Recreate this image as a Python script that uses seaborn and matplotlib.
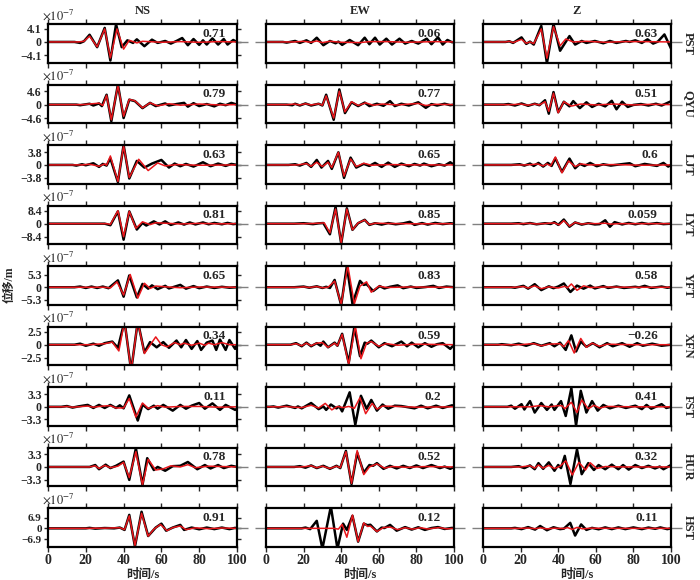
import numpy as np
import matplotlib
matplotlib.use("Agg")
import matplotlib.pyplot as plt
import seaborn as sns

# ---------------- data (amplitudes in 1e-7 m, time in s) ----------------
STATIONS = ['PST', 'QYU', 'LJT', 'LYT', 'YFT', 'XFN', 'FST', 'HUR', 'HST']
COMPONENTS = ['NS', 'EW', 'Z']
TICK_AMP = [4.1, 4.6, 3.8, 8.4, 5.3, 2.5, 3.3, 3.3, 6.9]
CORR = [['0.71', '0.06', '0.63'],
        ['0.79', '0.77', '0.51'],
        ['0.63', '0.65', '0.6'],
        ['0.81', '0.85', '0.059'],
        ['0.65', '0.83', '0.58'],
        ['0.34', '0.59', '\u22120.26'],
        ['0.11', '0.2', '0.41'],
        ['0.78', '0.52', '0.32'],
        ['0.91', '0.12', '0.11']]
XTICKS = [0, 20, 40, 60, 80, 100]

# --- NS ---
PST_NS_obs = [(0,0),(14,0),(17,-0.3),(19,0.2),(22,2.2),(26,-1.6),(30,4.3),(33,-5.7),(36,5.4),(39,-1.6),(42,0.5),(45,-0.3),(47,0.8),(51,-1.3),(55,0.7),(58,-0.3),(62,0.3),(65,-0.5),(68,0.3),(71,1.2),(74,-1.0),(77,0.9),(80,-0.9),(82,0.5),(84,-0.8),(87,1.1),(90,-0.8),(93,0.9),(95,-0.8),(98,0.6),(100,0)]
PST_NS_syn = [(0,0),(16,0),(19,0.2),(22,1.8),(26,-1.5),(30,4.0),(33,-4.9),(36.5,4.0),(40,-2.2),(43,0.5),(47,-0.3),(50,0.2),(60,-0.1),(70,0.1),(80,-0.1),(90,0.1),(100,0)]
QYU_NS_obs = [(0,0),(15,0),(17,-0.2),(22,0.3),(24,-0.3),(27,0.4),(28.5,-0.5),(31,3.4),(33.5,-5.7),(37,6.9),(40,-4.6),(43,1.7),(46,1.2),(50,-1.2),(54,0.6),(57,-0.5),(62,0.4),(64,-0.3),(68,0.2),(72,0.6),(74,-0.7),(77,0.5),(80,-0.5),(84,0.2),(88,-0.6),(91,0.3),(94,-0.2),(97,0.6),(100,0)]
QYU_NS_syn = [(0,0),(18,0),(20,0.1),(27,0.5),(29,-0.3),(31,3.2),(33.5,-5.2),(37,6.6),(40,-4.0),(43,1.8),(46,1.3),(50,-1.1),(54,0.6),(58,-0.4),(64,0.3),(70,-0.2),(80,0.2),(90,-0.1),(100,0)]
LJT_NS_obs = [(0,0),(13,0),(15,-0.2),(18,0.2),(20,-0.1),(24,0.5),(27,-0.6),(29,0.3),(31,-0.2),(33,2.0),(37,-5.2),(40,6.0),(43,-4.1),(47,1.2),(51,-0.8),(55,0.4),(60,1.5),(64,-0.8),(67,0.4),(70,-0.4),(73,0.3),(77,-0.5),(82,0.8),(86,-0.4),(90,0.4),(94,-0.3),(97,0.3),(100,0)]
LJT_NS_syn = [(0,0),(18,0),(22,0.2),(27,-0.4),(30,0.3),(31,-0.1),(33,2.7),(37,-5.0),(40,5.8),(43,-3.8),(48,1.7),(53,-1.7),(58,0.6),(62,-0.3),(68,0.1),(80,-0.1),(100,0)]
LYT_NS_obs = [(0,0),(30,0),(33,-1.0),(37,8.0),(40,-10.4),(43,8.0),(47,-3.8),(50,0.5),(52,-1.2),(56,1.5),(59,-0.5),(62,1.5),(65,-0.8),(69,0.8),(72,-0.6),(75,0.8),(78,-0.5),(82,0.8),(85,-0.4),(88,0.5),(92,-0.4),(95,0.5),(98,-0.3),(100,0)]
LYT_NS_syn = [(0,0),(31,0),(33,-0.5),(37,8.4),(40,-8.5),(43,8.0),(46.5,-3.0),(50,1.2),(54,-0.6),(57,0.6),(62,0.3),(70,-0.2),(80,0.2),(90,-0.1),(100,0)]
YFT_NS_obs = [(0,0),(14,0),(17,0.3),(20,-0.3),(23,0.3),(26,-0.3),(29,0.3),(32,-0.4),(37,2.9),(40,-4.0),(43,5.0),(47,-4.3),(50,1.4),(53,-0.6),(55,0.8),(58,-0.8),(62,0.6),(64,-0.5),(70,1.0),(73,-0.6),(77,0.5),(80,-0.4),(84,0.3),(88,-0.3),(92,0.2),(96,-0.2),(100,0)]
YFT_NS_syn = [(0,0),(30,0),(33,-0.3),(36.5,2.3),(40,-3.3),(43.5,5.4),(47.5,-4.6),(51,1.7),(54,-0.5),(57,0.5),(62,0.2),(70,-0.2),(80,0.1),(100,0)]
XFN_NS_obs = [(0,0),(14,0),(17,0.2),(20,-0.2),(24,0.2),(27,-0.2),(30,0.3),(34,0.6),(37,-0.6),(40.5,4.5),(44,-5.0),(47.5,4.5),(51,-1.5),(54,0.5),(57.5,-0.5),(61,0.5),(64,-0.6),(68,0.8),(70.5,-0.5),(73,0.9),(76,-0.8),(79,0.7),(81,-1.0),(84,0.4),(87,0.8),(89,-1.0),(91,1.0),(94,-1.0),(96,0.9),(99,-0.8),(100,0)]
XFN_NS_syn = [(0,0),(22,0),(26,0.1),(30,0.2),(34,0.5),(37.5,-1.2),(40.5,4.5),(44,-5.0),(47.5,4.5),(51,-1.7),(57,1.5),(60,0.0),(63,-0.4),(67,0.4),(70,0),(72,0.3),(76,-0.1),(80,0.3),(83,-0.1),(85,0.3),(88,0),(92,0.4),(96,0),(100,0)]
FST_NS_obs = [(0,0),(7,0),(10,0.2),(13,-0.2),(16,0.1),(21,0.5),(24,-0.3),(27,0.5),(30,-0.3),(33,0.5),(36,-0.3),(38,0.4),(40,-0.4),(43,3.0),(47.5,-3.6),(50,0.6),(53,-0.6),(56,0.3),(58,-0.5),(61,0.5),(66,-1.0),(70,0.5),(73,-0.5),(76,0.3),(80,1.0),(83,-0.5),(87,0.9),(91,-0.8),(94,0.5),(99,-0.8),(100,-0.5)]
FST_NS_syn = [(0,0),(8,0),(10,0.1),(13,-0.1),(21,0.2),(24,-0.1),(29,0.2),(33,0.3),(36,-0.3),(40,-0.3),(43,2.2),(46.5,-2.7),(50,1.0),(53,-0.4),(58,0.3),(62,-0.1),(70,0.1),(80,0.1),(90,-0.1),(100,0)]
HUR_NS_obs = [(0,0),(22,0),(25,0.5),(27,-0.6),(30.5,0.6),(33,-0.3),(36,0.3),(40,1.4),(43,-3.4),(46.5,4.9),(50,-4.7),(52.5,2.3),(56,-0.8),(58,0),(62,-1.0),(66,0.2),(70,0.3),(74,1.3),(79,-0.6),(83,0.5),(86,-0.4),(90,0.5),(93,-0.3),(97,0.3),(100,0)]
HUR_NS_syn = [(0,0),(22,0),(25,0.3),(27,-0.4),(30,0.4),(33,-0.2),(37,0.2),(40,1.2),(43,-2.8),(46.5,4.0),(50,-4.7),(53,2.0),(57,-0.8),(61,-0.5),(65,0.3),(70,0),(74,0.6),(78,-0.2),(85,0.2),(100,0)]
HST_NS_obs = [(0,0),(20,0),(22,0.3),(25,-0.2),(30,0.2),(35,0),(38,0.5),(40.5,-1.0),(43,8.6),(46,-11.6),(49.5,10.6),(53,-4.9),(57,0.5),(60,3.0),(62.5,-1.5),(66,0.5),(70,2.2),(72,-1.0),(76,0.5),(80,-0.6),(84,0.5),(88,-0.5),(92,0.5),(96,-0.5),(99,0.3),(100,0)]
HST_NS_syn = [(0,0),(22,0),(25,0.1),(30,0.1),(38,0.4),(40.5,-0.8),(43,8.0),(46,-11.0),(49.5,9.6),(53,-5.0),(56,-0.5),(59.5,2.5),(63,-1.5),(66,0.5),(70,1.5),(73,-0.8),(78,0.3),(85,-0.2),(92,0.2),(100,0)]

# --- EW ---
PST_EW_obs = [(0,0),(9,0),(11,-0.2),(15.5,0.3),(18,-0.3),(21.5,0.5),(24,-0.3),(27,1.3),(30.5,-1.0),(34,0.3),(37,-0.4),(38.5,0.1),(40.5,-0.9),(44.5,0.6),(49,-1.0),(52.5,1.3),(55,-0.7),(58,1.3),(60.5,-0.8),(64,1.0),(67,-0.8),(71,1.0),(74,-0.5),(77.5,0.3),(81,-0.5),(85.5,1.0),(88,-0.7),(91.5,1.4),(94,-0.8),(96.5,0.6),(99,-0.1),(100,0)]
PST_EW_syn = [(0,0),(15,0),(20,0.2),(24,-0.1),(27,0.3),(30,-0.2),(34,0.2),(40,-0.1),(50,-0.2),(55,0.1),(65,0.1),(75,-0.1),(90,0.1),(100,0)]
QYU_EW_obs = [(0,0),(11,0),(14,-0.2),(15.5,0.3),(18,-0.3),(21,0.4),(24,-0.3),(28,0.3),(30,-0.3),(32,3.4),(36,-5.2),(39,5.2),(42,-2.9),(45.5,0.8),(49,-0.5),(52.5,0.7),(55,-0.5),(59,0.3),(62.5,-0.4),(66,1.2),(68.5,-0.5),(72,0.3),(76,-0.3),(81,0.8),(85,-1.1),(88,0.2),(91,-0.3),(95,0.3),(98,-0.2),(100,0)]
QYU_EW_syn = [(0,0),(12,0),(15,0.2),(18,-0.1),(21,0.3),(24,-0.1),(28,0.3),(30,-0.2),(32,3.0),(36,-4.6),(39,4.6),(42,-2.5),(45.5,1.0),(49,-0.3),(53,0.6),(57,-0.2),(62,0.2),(70,-0.1),(81,0.4),(85,-0.3),(90,0.1),(100,0)]
LJT_EW_obs = [(0,0),(12,0),(15.5,0.2),(18,-0.2),(21.5,0.6),(24,-0.6),(27,1.5),(29.5,-0.8),(33,1.2),(35,-1.2),(38.5,3.8),(41.5,-3.9),(45,2.2),(48,-0.8),(52,0.3),(55,-0.3),(58,0.6),(61.5,-0.6),(65,0.7),(68.5,-0.6),(72,0.4),(76,-0.4),(79,0.3),(82,-0.2),(84,0.4),(88,-0.4),(92,0.2),(95,-0.2),(98,0.8),(100,0)]
LJT_EW_syn = [(0,0),(17,0),(21.5,0.4),(24,-0.4),(27,0.8),(30,-0.5),(33,0.8),(35,-0.8),(38.5,3.8),(41.5,-3.4),(45,1.8),(48,-0.5),(52,0.5),(56,-0.1),(65,0.1),(80,0),(100,0)]
LYT_EW_obs = [(0,0),(15,0),(20,0.3),(25,-0.3),(28,0.2),(30.5,0.4),(34,-6.9),(37,10.9),(40,-13.0),(43,10.0),(46,-4.0),(49,0.3),(52.5,2.5),(55,-0.8),(58,0.3),(61.5,-0.6),(65,0.4),(69,-0.4),(73,0.2),(76.5,1.2),(79,-0.8),(83,0.4),(86,-0.6),(90,0.5),(94,-0.3),(98,0.3),(100,0)]
LYT_EW_syn = [(0,0),(20,0),(25,0.1),(31,0.5),(34,-6.0),(37,9.5),(40,-12.5),(43,9.5),(46,-4.0),(49,0.5),(52.5,2.4),(55,-0.6),(58,0.3),(65,0.1),(80,-0.1),(100,0)]
YFT_EW_obs = [(0,0),(15,0),(20,0.3),(23,-0.2),(27,0.4),(30,-0.3),(32,0.2),(34,-0.3),(36.5,3.1),(40,-7.6),(43,9.0),(46,-7.1),(50,2.7),(52,1.0),(53.5,1.3),(57,-1.6),(60.5,0.5),(63,-0.5),(66,0.2),(70,0.8),(73,-0.4),(77,0.3),(80,-0.3),(85,0.1),(89,0.6),(92,-0.3),(96,0.3),(100,0)]
YFT_EW_syn = [(0,0),(18,0),(20,0.2),(23,-0.1),(27,0.3),(30,-0.2),(33,0.0),(36.5,2.6),(40,-7.2),(43.5,9.2),(47,-7.0),(50,0.5),(53.5,2.3),(56,-2.1),(60,0.5),(64,-0.1),(75,0.1),(100,0)]
XFN_EW_obs = [(0,0),(13,0),(16,0.3),(19,-0.3),(21.5,0.4),(24,-0.3),(27,0.3),(29,-0.2),(30.5,0.6),(33,-0.5),(36.5,0.4),(38,-0.2),(40.5,2.1),(44,-3.5),(47,3.4),(50,-2.2),(52.5,0.4),(54,0.2),(56,0.8),(60,-0.5),(63,0.3),(67,-0.3),(72,0.6),(75,-0.3),(77.5,0.4),(81,-0.5),(84.5,0.3),(88,-0.4),(91,0.1),(94,0.3),(98,-0.8),(100,0)]
XFN_EW_syn = [(0,0),(13,0),(16,0.2),(19,-0.2),(21.5,0.3),(24,-0.2),(27,0.3),(30,0.4),(33,-0.5),(36.5,0.3),(38,-0.2),(40.5,2.0),(44,-3.8),(47.5,3.6),(50.5,-2.7),(53.5,0.3),(56,0.6),(60,-0.3),(64,0.2),(70,-0.1),(80,0.1),(100,0)]
FST_EW_obs = [(0,0),(2,0),(4,0.1),(6.5,-0.2),(11,0.3),(15.5,-0.3),(17,0.1),(19,-0.4),(24,1.0),(28,-0.6),(30.5,0.1),(32,-0.8),(34.5,0.6),(37.5,-0.4),(39,0.1),(40.5,-1.2),(44.5,3.8),(47.5,-4.7),(50.5,2.9),(53.5,-0.5),(56,1.8),(59,-1.0),(62,0.6),(65,-0.5),(68.5,0.3),(72,0.2),(79,-0.4),(82.5,0.3),(86,-0.4),(90.5,0.3),(94,-0.3),(99,0.4),(100,0.2)]
FST_EW_syn = [(0,0),(8,0),(10,0.1),(15,-0.1),(19,-0.2),(24,0.4),(28,-0.3),(31.5,0.9),(35,-0.8),(38,0.1),(41,-0.2),(44,0.1),(47,-0.4),(50,2.4),(53,-1.8),(56.5,0.9),(59,-0.6),(62,0.2),(70,0.1),(80,-0.1),(100,0)]
HUR_EW_obs = [(0,0),(15,0),(18,0.2),(21,-0.2),(24,0.4),(27,-0.3),(30.5,0.3),(34,-0.5),(37.5,0.3),(39.5,-0.3),(42.5,4.2),(45.5,-4.5),(48.5,3.7),(52,-1.5),(55,0.5),(57,0.3),(59,1.0),(62.5,-0.5),(66,0.3),(69.5,-0.4),(73,0.3),(76.5,-0.3),(80,0.4),(83.5,-0.3),(88,0.5),(92.5,-0.3),(95,0.1),(98,-0.5),(100,0)]
HUR_EW_syn = [(0,0),(18,0),(21,0.1),(24,0.3),(27,-0.2),(30,0.2),(34,-0.4),(37.5,0.2),(39.5,-0.2),(42.5,4.0),(45.5,-4.3),(48.5,4.3),(52,-2.0),(55,0),(59,0.8),(63,-0.3),(67,0.1),(75,-0.1),(85,0.1),(100,0)]
HST_EW_obs = [(0,0),(19,0),(21,0.5),(23.5,-0.5),(27,4.8),(30,-13.0),(34.5,14.0),(38,-13.0),(41,3.0),(43,-1.0),(46,8.0),(49,-8.5),(52,3.0),(54,2.0),(55.5,2.3),(59,-2.0),(61.5,0.5),(63,0.2),(66,2.2),(69.5,-1.5),(74,0.8),(77.5,-0.8),(81,0.7),(84.5,-1.0),(88,0.2),(91.5,0.8),(95,-0.4),(99,0.3),(100,0)]
HST_EW_syn = [(0,0),(36,0),(38.5,-0.5),(40.5,2.5),(43,-5.7),(46,8.5),(49,-8.5),(52,3.5),(54,1.2),(55.5,1.5),(59,-2.0),(62.5,0.5),(66,0.8),(70,-0.8),(74,0.4),(78,-0.5),(82,0.4),(86,-0.4),(92,0.5),(96,-0.3),(100,0)]

# --- Z ---
PST_Z_obs = [(0,0),(12,0),(14,0.2),(16,-0.3),(20.5,1.4),(23,-0.6),(25,0.1),(27,-0.8),(31,4.9),(34,-6.5),(37.5,5.5),(41,-2.7),(46,1.8),(49,-0.8),(52.5,0.3),(55,-0.3),(59.5,0.3),(64,-0.4),(67.5,0.3),(71,-0.3),(76,0.3),(78,0),(81,0.5),(84.5,-0.3),(87.5,0.8),(90.5,-0.5),(93,0.1),(96.5,2.3),(100,-2.0)]
PST_Z_syn = [(0,0),(12,0),(14,0.2),(16,-0.2),(20.5,0.8),(23,-0.4),(25,0),(27,-0.5),(31,4.0),(34,-5.0),(37.5,4.7),(41,-1.2),(44,0.9),(48,0),(55,0.2),(65,-0.1),(75,0.1),(85,0.1),(100,0)]
QYU_Z_obs = [(0,0),(11,0),(13.5,0.2),(17,-0.3),(20.5,0.4),(24,-0.4),(27.5,0.3),(30,-0.2),(33,1.5),(35,-3.1),(37.5,4.3),(40,-2.6),(43,1.0),(46,-0.6),(48,1.2),(51.5,-1.2),(55,0.8),(58,-0.8),(61.5,0.3),(65,-0.6),(68.5,1.3),(71,-1.6),(74,1.0),(77,-0.8),(80,-0.1),(84,0.2),(88,-0.3),(92,0.3),(95,-0.3),(99.5,1.0),(100,0.8)]
QYU_Z_syn = [(0,0),(16,0),(20,0.2),(24,-0.2),(27.5,0.2),(30,-0.1),(33,1.0),(35,-2.3),(37.5,3.9),(40,-2.8),(43,1.0),(47,-0.5),(52,0.2),(60,-0.1),(70,0.2),(80,-0.1),(90,0.1),(100,0)]
LJT_Z_obs = [(0,0),(15,0),(19.5,0.2),(22,-0.2),(25,0.4),(27,-0.3),(29.5,0.6),(32,-0.5),(34.5,0.6),(36.5,-0.3),(38.5,2.0),(42,-2.1),(46,1.9),(49,-1.0),(51.5,0.3),(54,-0.3),(57,0.6),(60.5,-0.4),(64,0.2),(68,-0.2),(72,0.1),(78,0.5),(81,-0.4),(86,0.3),(92.5,-0.3),(96,0.6),(98.5,-0.5),(100,0)]
LJT_Z_syn = [(0,0),(22,0),(26,0.1),(29,0.3),(32,-0.3),(34,0.3),(36,-0.3),(38.5,2.4),(42,-2.4),(45.5,1.2),(49,-0.5),(52,0.3),(56,0),(70,0.1),(85,-0.1),(100,0)]
LYT_Z_obs = [(0,0),(15,0),(19,0.3),(21.5,-0.3),(25,0.4),(28.5,-0.4),(33,0.3),(36,-0.2),(38,1.0),(40,-0.8),(43,2.7),(46,-2.0),(49,0.8),(52.5,-0.6),(56,0.3),(59.5,-0.5),(62,-0.3),(65,2.2),(67.5,-2.0),(70,1.0),(74,-0.5),(77.5,0.5),(81,-0.4),(84.5,0.5),(88,-0.3),(92.5,0.4),(96,-0.3),(100,0)]
LYT_Z_syn = [(0,0),(20,0),(25,0.2),(28.5,-0.2),(33,0.1),(38,0.5),(40.5,-0.8),(43,2.0),(46,-1.6),(49,0.8),(52.5,-0.3),(56,0.2),(60,0),(65,0.3),(68,-0.3),(72,0),(100,0)]
YFT_Z_obs = [(0,0),(15,0),(17,-0.2),(21.5,0.6),(24,-0.6),(27.5,1.3),(31,-1.2),(35,0.4),(37.5,-0.4),(40,0.3),(43,1.6),(46.5,-2.0),(50,0.7),(53.5,-0.6),(57,0.7),(59.5,-0.5),(64,0.5),(66.5,-0.3),(71,0.3),(75,-0.3),(81,0.2),(83,-0.1),(86,0.6),(89.5,-0.3),(95,0.3),(98,-0.2),(100,0)]
YFT_Z_syn = [(0,0),(17,0),(21.5,0.3),(24,-0.3),(27.5,0.6),(31,-0.6),(35,0.2),(40,-0.3),(43.5,0.4),(45,-0.2),(47,1.4),(50,-1.3),(53.5,0.6),(57,-0.1),(65,0.1),(80,0),(100,0)]
XFN_Z_obs = [(0,0),(8,0),(10,0.1),(15,-0.1),(19,0.2),(23,-0.2),(27,0.3),(31,-0.2),(35.5,0.3),(38,-0.3),(41,0.4),(44,-1.0),(47,1.8),(49.5,-1.3),(52,0.6),(55,-0.4),(58.5,0.3),(62,-0.5),(66,0.3),(69,-0.3),(74,0.3),(78,-0.4),(82,0.3),(85,-0.2),(90,0.2),(95,-0.2),(100,0)]
XFN_Z_syn = [(0,0),(20,0),(23,0.1),(27,0.2),(31,-0.2),(35,0.1),(41,0.2),(43,-0.4),(45.5,0.8),(48.5,-1.6),(52,1.2),(55,-0.5),(58,0.3),(62,-0.3),(66,0.1),(80,0),(100,0)]
FST_Z_obs = [(0,0),(13,0),(15,0.3),(17,-0.5),(20.5,0.7),(22,-0.7),(25,1.5),(27.5,-1.5),(31,1.0),(34,-0.8),(36.5,0.6),(38,-0.8),(41.5,1.5),(44,-2.4),(47,4.9),(49.5,-4.9),(52,4.2),(55,-1.5),(58,1.5),(61,-1.0),(64,0.5),(67.5,-0.4),(72,0.3),(76,-0.3),(81,0.3),(84.5,-0.6),(87,0.5),(89.5,-0.5),(95,0.7),(97.5,-0.3),(100,0)]
FST_Z_syn = [(0,0),(25,0),(30,0.3),(35,0),(40,0.3),(42,0.3),(43.5,-0.5),(47,1.2),(50,-1.5),(52.5,1.8),(56,-0.5),(59,0.4),(62,-0.3),(66,0.1),(80,0),(100,0)]
HUR_Z_obs = [(0,0),(15,0),(19,0.2),(22,-0.3),(25,0.4),(27.5,-0.6),(29.5,1.0),(32,-0.5),(35,1.2),(38,-1.0),(40,0.5),(41.5,-0.3),(43.5,2.9),(46.5,-4.5),(50,4.6),(52.5,-1.9),(56,1.0),(59,-0.8),(61.5,0.5),(65,-0.6),(68.5,0.6),(72,-0.6),(74.5,0.5),(77.5,-0.7),(81,0.5),(84.5,-0.3),(88,0.3),(91.5,-0.4),(94,0.1),(96,-0.6),(100,0.5)]
HUR_Z_syn = [(0,0),(20,0),(25,0.3),(27.5,-0.3),(29.5,0.5),(32,-0.3),(35,0.4),(38,-0.4),(41,0.2),(44,1.6),(47.5,-2.1),(51,1.2),(54.5,-0.8),(57,1.1),(60.5,-0.4),(65,0.1),(75,0),(100,0)]
HST_Z_obs = [(0,0),(15,0),(17,0.3),(20.5,-0.5),(24,0.8),(27.7,-0.8),(30.4,1.5),(34,-1.2),(37.5,0.7),(41,-0.5),(43,-0.2),(46.4,3.5),(49,-4.6),(52.2,2.5),(55,-1.0),(58,0.3),(61.5,-0.6),(65,0.6),(68.5,-0.5),(72,0.6),(75.7,-0.5),(80,0.6),(84.5,-0.5),(88,0.5),(91.6,-0.3),(94.3,0.6),(98,-0.5),(100,0)]
HST_Z_syn = [(0,0),(20,0),(24,0.2),(27.7,-0.2),(30.4,0.3),(34,-0.3),(38,0.1),(43,-0.1),(45,0.5),(47.5,-0.7),(50,0.6),(53,-0.3),(57,0.1),(70,0),(100,0)]

# ---------------- style / layout ----------------
sns.set_style("ticks")
plt.rcParams['font.family'] = ['Liberation Serif', 'Noto Sans CJK SC', 'DejaVu Sans']
plt.rcParams['mathtext.fontset'] = 'stix'
plt.rcParams['lines.solid_joinstyle'] = 'round'

W, H = 700, 580
fig = plt.figure(figsize=(7.0, 5.8), dpi=100)

COL_LEFT = [48, 266, 483]
COL_W = [189, 188, 188]
ROW_TOP0, ROW_PITCH, ROW_H = 24, 60.5, 38.5
# axis limits per row (1e-7 m)
YLIMS = [(-6.3, 5.5), (-6.3, 6.9), (-5.6, 6.0), (-13.2, 11.8), (-7.3, 9.0),
         (-3.9, 3.5), (-4.9, 5.2), (-5.0, 5.1), (-11.6, 13.0)]

OBS_COLOR = 'black'
SYN_COLOR = '#e8161b'
FS = 9
YFS = 8.5

g = globals()
for i, st in enumerate(STATIONS):
    A = TICK_AMP[i]
    top = ROW_TOP0 + ROW_PITCH * i
    for j, comp in enumerate(COMPONENTS):
        ax = fig.add_axes([COL_LEFT[j] / W, 1 - (top + ROW_H) / H, COL_W[j] / W, ROW_H / H])
        obs = g[f'{st}_{comp}_obs']
        syn = g[f'{st}_{comp}_syn']
        to, ao = zip(*obs)
        ts, as_ = zip(*syn)
        sns.lineplot(x=list(to), y=list(ao), ax=ax, color=OBS_COLOR, linewidth=1.8,
                     estimator=None, sort=False, legend=False)
        sns.lineplot(x=list(ts), y=list(as_), ax=ax, color=SYN_COLOR, linewidth=1.1,
                     estimator=None, sort=False, legend=False)
        ax.set_xlim(0, 100)
        ax.set_ylim(*YLIMS[i])
        ax.set_xlabel('')
        ax.set_ylabel('')
        for sp in ax.spines.values():
            sp.set_visible(True)
            sp.set_linewidth(1.6)
            sp.set_color('black')
        # x ticks
        ax.set_xticks(XTICKS)
        ax.tick_params(axis='x', which='major', direction='out', length=3.5, width=1.0,
                       top=True, bottom=True, labelbottom=(i == len(STATIONS) - 1),
                       labelsize=FS + 1, pad=2)
        for lab in ax.get_xticklabels():
            lab.set_fontweight('bold')
        # y ticks
        ax.yaxis.remove_overlapping_locs = False
        if j == 0:
            ax.set_yticks([-A, 0, A], labels=[f'\u2212{A}', '0', f'{A}'])
            ax.tick_params(axis='y', which='major', direction='out', length=3, width=1.0,
                           left=True, right=True, labelleft=True,
                           labelsize=(YFS if i < len(STATIONS) - 1 else 8), pad=1.5)
            for lab in ax.get_yticklabels():
                lab.set_fontweight('bold')
            ax.set_yticks([0], minor=True)
            ax.tick_params(axis='y', which='minor', direction='out', length=8, width=1.0,
                           color='#808080', left=False, right=True, labelleft=False)
            ax.text(-0.03, 1.04, r'$\times10^{-7}$', transform=ax.transAxes,
                    ha='left', va='bottom', fontsize=FS)
        else:
            ax.set_yticks([])
            ax.set_yticks([0], minor=True)
            ax.tick_params(axis='y', which='minor', direction='out', length=8, width=1.0,
                           color='#808080', left=True, right=True, labelleft=False)
        # correlation value
        ax.text(0.94 if j == 0 else 0.93, 0.75, CORR[i][j], transform=ax.transAxes,
                ha='right', va='center', fontsize=FS + 0.5, fontweight='bold')
        if i == 0:
            ax.set_title(comp, fontsize=FS, fontweight='bold', pad=7)
        if i == len(STATIONS) - 1:
            ax.set_xlabel('时间/s', fontsize=FS, fontweight='bold', labelpad=1)
        if j == 2:
            ax.text(1.09, 0.5, st, transform=ax.transAxes, rotation=270,
                    ha='center', va='center', fontsize=FS, fontweight='bold')

fig.text(10 / W, 1 - 285 / H, '位移/m', rotation=90, ha='center', va='center',
         fontsize=FS - 0.5, fontweight='bold')

fig.savefig('out.png', dpi=100)
